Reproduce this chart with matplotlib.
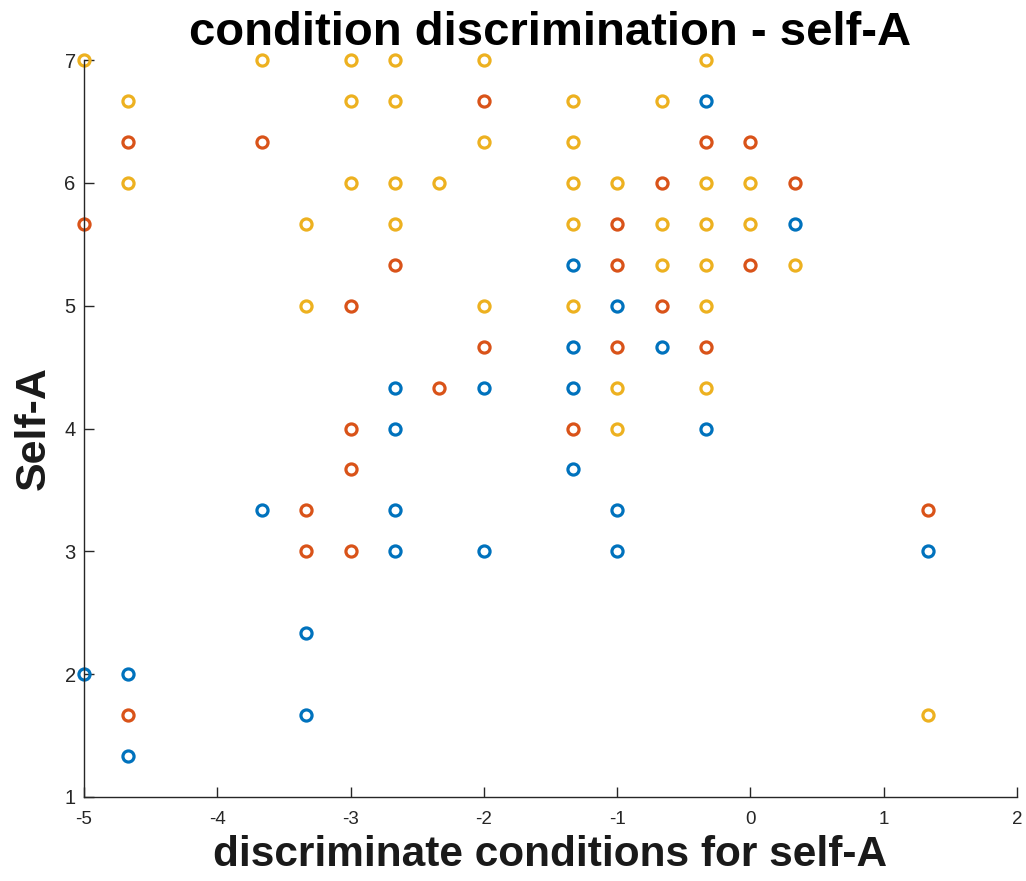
import matplotlib
matplotlib.use("Agg")
import matplotlib.pyplot as plt
import numpy as np

t = 1/3
# series 1 (blue)
blue_x = [-t, t, -4*t, -1, -4*t, -2*t, -8*t, -2, -4*t, -8*t, -t, -4*t, -11*t, -8*t, -1, -8*t, -2, -1, 4*t, -10*t, -5, -14*t, -10*t, -14*t]
blue_y = [20*t, 17*t, 16*t, 5, 14*t, 14*t, 13*t, 13*t, 13*t, 4, 4, 11*t, 10*t, 10*t, 10*t, 3, 3, 3, 3, 7*t, 2, 2, 5*t, 4*t]
# series 2 (orange)
orange_x = [-14*t, -11*t, -5, -2, -t, 0, -2*t, t, -1, -8*t, -1, 0, -3, -2*t, -2, -1, -t, -7*t, -3, -4*t, -3, -10*t, -10*t, -3, 4*t, -14*t]
orange_y = [19*t, 19*t, 17*t, 20*t, 19*t, 19*t, 6, 6, 17*t, 16*t, 16*t, 16*t, 5, 5, 14*t, 14*t, 14*t, 13*t, 4, 4, 11*t, 10*t, 3, 3, 10*t, 5*t]
# series 3 (yellow)
yellow_x = [-5, -14*t, -14*t, -11*t, -3, -3, -8*t, -8*t, -2, -2, -4*t, -4*t, -2*t, -t,
            -3, -8*t, -7*t, -4*t, -1, -t, 0,
            -10*t, -8*t, -4*t, -2*t, -t, 0,
            -2*t, -t, t,
            -10*t, -2, -4*t, -t,
            -1, -t, -1, 4*t]
yellow_y = [7, 20*t, 6, 7, 7, 20*t, 7, 20*t, 7, 19*t, 20*t, 19*t, 20*t, 7,
            6, 6, 6, 6, 6, 6, 6,
            17*t, 17*t, 17*t, 17*t, 17*t, 17*t,
            16*t, 16*t, 16*t,
            5, 5, 5, 5,
            13*t, 13*t, 4, 5*t]

x_ticks = [-5, -4, -3, -2, -1, 0, 1, 2]
y_ticks = [1, 2, 3, 4, 5, 6, 7]

plt.rcParams['font.family'] = ['Liberation Sans', 'DejaVu Sans']

fig = plt.figure(figsize=(10.26, 8.81), dpi=100)
ax = fig.add_axes([84/1026, 84/881, (1017-84)/1026, (797-60)/881])

mk = dict(marker='o', linestyle='none', markersize=8, markeredgewidth=2.3,
          markerfacecolor='none', clip_on=False)
ax.plot(blue_x, blue_y, markeredgecolor='#0072BD', **mk)
ax.plot(orange_x, orange_y, markeredgecolor='#D95319', **mk)
ax.plot(yellow_x, yellow_y, markeredgecolor='#EDB120', **mk)

ax.set_xlim(-5, 2)
ax.set_ylim(1, 7)
ax.set_xticks(x_ticks)
ax.set_yticks(y_ticks)
ax.set_xticklabels([str(v) for v in x_ticks])
ax.set_yticklabels([str(v) for v in y_ticks])
ax.tick_params(direction='in', length=7, width=1, colors='#262626')
ax.tick_params(axis='x', labelsize=13.5, pad=10)
ax.tick_params(axis='y', labelsize=14.5, pad=6)
for s in ['top', 'right']:
    ax.spines[s].set_visible(False)
for s in ['left', 'bottom']:
    ax.spines[s].set_color('#262626')
    ax.spines[s].set_linewidth(1)

ax.set_title('condition discrimination - self-A', fontsize=34, fontweight='bold', pad=11)
ax.set_xlabel('discriminate conditions for self-A', fontsize=30.5, fontweight='bold',
              labelpad=5, color='#1a1a1a')
ax.set_ylabel('Self-A', fontsize=31, fontweight='bold', labelpad=8, color='#1a1a1a')

fig.savefig('out.png', dpi=100)
